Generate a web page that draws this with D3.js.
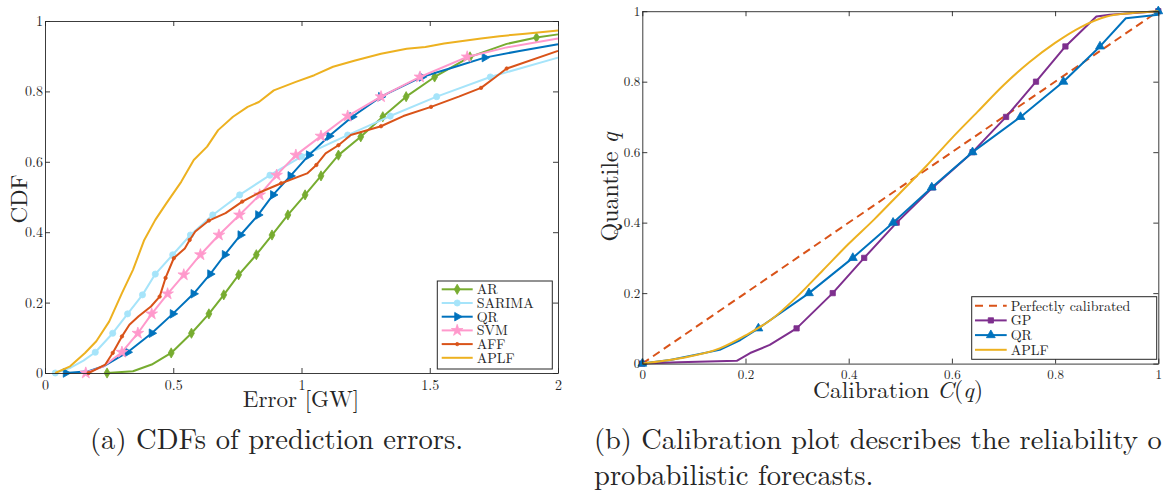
<!DOCTYPE html>
<html><head><meta charset="utf-8">
<script src="https://cdn.jsdelivr.net/npm/d3@7"></script>
<style>
body{margin:0;background:#fff}
svg{display:block}
svg text{font-family:"Latin Modern Roman","Liberation Serif",serif !important;fill:#262626}
</style>
</head><body><svg id="c" width="1163" height="494" font-family="Latin Modern Roman"></svg>
<script>
// ---------- Left panel: CDFs of prediction errors ----------
const cdfNames = ["AR","SARIMA","QR","SVM","AFF","APLF"];
const cdfColors = ["#77AC30","#A6E4FA","#0072BD","#FF99CC","#D95319","#EDB120"];
const arLine = [[0.242,0],[0.343,0.005],[0.416,0.024],[0.492,0.057],[0.571,0.113],[0.639,0.168],[0.697,0.222],[0.755,0.279],[0.824,0.336],[0.885,0.392],[0.947,0.449],[1.014,0.506],[1.076,0.56],[1.144,0.619],[1.231,0.671],[1.317,0.728],[1.408,0.785],[1.519,0.841],[1.657,0.898],[1.8,0.935],[1.916,0.953],[2.0,0.962]];
const arMarks = [[0.242,0],[0.492,0.057],[0.571,0.113],[0.639,0.168],[0.697,0.222],[0.755,0.279],[0.824,0.336],[0.885,0.392],[0.947,0.449],[1.014,0.506],[1.076,0.56],[1.144,0.619],[1.231,0.671],[1.317,0.728],[1.408,0.785],[1.519,0.841],[1.657,0.898],[1.916,0.953]];
const sarimaLine = [[0.04,0],[0.1,0.015],[0.15,0.035],[0.196,0.059],[0.264,0.113],[0.322,0.168],[0.38,0.222],[0.43,0.281],[0.498,0.336],[0.567,0.392],[0.654,0.449],[0.759,0.506],[0.877,0.562],[1.0,0.615],[1.18,0.676],[1.346,0.73],[1.527,0.785],[1.736,0.841],[2.0,0.896]];
const sarimaMarks = [[0.04,0],[0.196,0.059],[0.264,0.113],[0.322,0.168],[0.38,0.222],[0.43,0.281],[0.498,0.336],[0.567,0.392],[0.654,0.449],[0.759,0.506],[0.877,0.562],[1.0,0.615],[1.18,0.676],[1.346,0.73],[1.527,0.785],[1.736,0.841]];
const qrLine = [[0.081,0],[0.17,0.005],[0.228,0.019],[0.322,0.059],[0.416,0.113],[0.498,0.168],[0.579,0.225],[0.644,0.281],[0.701,0.336],[0.762,0.392],[0.831,0.449],[0.889,0.506],[0.957,0.56],[1.029,0.619],[1.108,0.673],[1.198,0.728],[1.31,0.785],[1.469,0.841],[1.6,0.87],[1.714,0.896],[1.85,0.915],[2.0,0.934]];
const qrMarks = [[0.081,0],[0.322,0.059],[0.416,0.113],[0.498,0.168],[0.579,0.225],[0.644,0.281],[0.701,0.336],[0.762,0.392],[0.831,0.449],[0.889,0.506],[0.957,0.56],[1.029,0.619],[1.108,0.673],[1.198,0.728],[1.31,0.785],[1.469,0.841],[1.714,0.896]];
const svmLine = [[0.159,0],[0.228,0.019],[0.3,0.059],[0.362,0.113],[0.416,0.168],[0.478,0.225],[0.541,0.279],[0.606,0.336],[0.678,0.392],[0.758,0.449],[0.837,0.506],[0.903,0.562],[0.978,0.619],[1.076,0.673],[1.18,0.73],[1.31,0.785],[1.462,0.841],[1.646,0.898],[1.8,0.925],[2.0,0.95]];
const svmMarks = [[0.159,0],[0.3,0.059],[0.362,0.113],[0.416,0.168],[0.478,0.225],[0.541,0.279],[0.606,0.336],[0.678,0.392],[0.758,0.449],[0.837,0.506],[0.903,0.562],[0.978,0.619],[1.076,0.673],[1.18,0.73],[1.31,0.785],[1.462,0.841],[1.646,0.898]];
const affLine = [[0.17,0],[0.235,0.024],[0.264,0.057],[0.3,0.104],[0.329,0.137],[0.365,0.161],[0.413,0.189],[0.447,0.217],[0.47,0.27],[0.502,0.326],[0.545,0.354],[0.564,0.378],[0.586,0.402],[0.639,0.433],[0.704,0.454],[0.769,0.487],[0.834,0.512],[0.921,0.539],[1.022,0.567],[1.058,0.591],[1.094,0.624],[1.144,0.647],[1.192,0.676],[1.31,0.701],[1.397,0.73],[1.505,0.756],[1.613,0.785],[1.7,0.81],[1.757,0.841],[1.8,0.865],[2.0,0.915]];
const affMarks = [[0.17,0],[0.264,0.057],[0.3,0.104],[0.447,0.217],[0.47,0.27],[0.502,0.326],[0.564,0.378],[0.639,0.433],[0.769,0.487],[0.921,0.539],[1.058,0.591],[1.144,0.647],[1.31,0.701],[1.505,0.756],[1.7,0.81],[1.8,0.865]];
const aplfLine = [[0.04,0],[0.098,0.019],[0.156,0.057],[0.2,0.09],[0.25,0.146],[0.3,0.227],[0.343,0.293],[0.387,0.378],[0.43,0.435],[0.473,0.482],[0.531,0.543],[0.58,0.605],[0.632,0.643],[0.675,0.69],[0.733,0.728],[0.79,0.756],[0.834,0.77],[0.892,0.803],[0.978,0.827],[1.05,0.846],[1.123,0.87],[1.209,0.888],[1.31,0.907],[1.41,0.921],[1.483,0.926],[1.556,0.936],[1.628,0.943],[1.7,0.95],[1.772,0.957],[1.873,0.964],[2.0,0.973]];
const errTicks = [0,0.5,1,1.5,2];
const errTickLabels = ["0","0.5","1","1.5","2"];
const cdfTicks = [0,0.2,0.4,0.6,0.8,1];
const cdfTickLabels = ["0","0.2","0.4","0.6","0.8","1"];

// ---------- Right panel: calibration plot ----------
const calNames = ["Perfectly calibrated","GP","QR","APLF"];
const calColors = ["#D95319","#7E2F8E","#0072BD","#EDB120"];
const perfectLine = [[0,0],[1,1]];
const gpLine = [[0,0],[0.07,0.004],[0.183,0.008],[0.209,0.03],[0.247,0.053],[0.299,0.1],[0.369,0.2],[0.43,0.3],[0.493,0.4],[0.563,0.5],[0.64,0.6],[0.705,0.7],[0.763,0.8],[0.82,0.9],[0.88,0.985],[0.906,0.99],[1.0,1.0]];
const gpMarks = [[0,0],[0.299,0.1],[0.369,0.2],[0.43,0.3],[0.493,0.4],[0.563,0.5],[0.64,0.6],[0.705,0.7],[0.763,0.8],[0.82,0.9],[1.0,1.0]];
const qrCalLine = [[0,0],[0.054,0.01],[0.15,0.039],[0.19,0.067],[0.225,0.1],[0.323,0.2],[0.408,0.3],[0.486,0.4],[0.561,0.5],[0.64,0.6],[0.733,0.7],[0.816,0.8],[0.887,0.9],[0.937,0.98],[1.0,0.99]];
const qrCalMarks = [[0,0],[0.225,0.1],[0.323,0.2],[0.408,0.3],[0.486,0.4],[0.561,0.5],[0.64,0.6],[0.733,0.7],[0.816,0.8],[0.887,0.9],[1.0,1.0]];
const aplfCalLine = [[0,0],[0.073,0.015],[0.15,0.043],[0.2,0.08],[0.25,0.125],[0.3,0.19],[0.35,0.265],[0.4,0.34],[0.45,0.41],[0.5,0.485],[0.55,0.56],[0.6,0.64],[0.65,0.715],[0.7,0.79],[0.75,0.855],[0.8,0.91],[0.85,0.955],[0.9,0.985],[0.95,0.995],[1.0,1.0]];
const calTicks = [0,0.2,0.4,0.6,0.8,1];
const calTickLabels = ["0","0.2","0.4","0.6","0.8","1"];

// ---------- drawing ----------
const FONT = "Latin Modern Roman";
const svg = d3.select("#c");
svg.append("rect").attr("width",1163).attr("height",494).attr("fill","#fff");

const AX = "#262626";
const xL = d3.scaleLinear().domain([0,2]).range([45,558]);
const yL = d3.scaleLinear().domain([0,1]).range([373,21]);
const xR = d3.scaleLinear().domain([0,1]).range([642.3,1158.3]);
const yR = d3.scaleLinear().domain([0,1]).range([363.6,11.2]);

function sym(type){
  if(type==="diamond") return {p:d3.symbol().type(d3.symbolDiamond).size(30)(), r:0};
  if(type==="circle") return {p:d3.symbol().type(d3.symbolCircle).size(30)(), r:0};
  if(type==="tri-right") return {p:d3.symbol().type(d3.symbolTriangle).size(32)(), r:90};
  if(type==="star") return {p:d3.symbol().type(d3.symbolStar).size(42)(), r:0};
  if(type==="dot") return {p:d3.symbol().type(d3.symbolCircle).size(9)(), r:0};
  if(type==="square") return {p:d3.symbol().type(d3.symbolSquare).size(28)(), r:0};
  if(type==="tri-up") return {p:d3.symbol().type(d3.symbolTriangle).size(34)(), r:0};
  return null;
}

function axes(x,y,xt,xtl,yt,ytl,padB,fs){
  const g = svg.append("g").style("color",AX);
  const fmt = (vals,labs)=> (d)=> labs[vals.indexOf(d)];
  const b = g.append("g").attr("transform",`translate(0,${y.range()[0]})`)
    .call(d3.axisBottom(x).tickValues(xt).tickFormat(fmt(xt,xtl)).tickSizeInner(-5).tickSizeOuter(0).tickPadding(padB));
  const t = g.append("g").attr("transform",`translate(0,${y.range()[1]})`)
    .call(d3.axisTop(x).tickValues(xt).tickFormat("").tickSizeInner(-5).tickSizeOuter(0));
  const l = g.append("g").attr("transform",`translate(${x.range()[0]},0)`)
    .call(d3.axisLeft(y).tickValues(yt).tickFormat(fmt(yt,ytl)).tickSizeInner(-5).tickSizeOuter(0).tickPadding(2));
  const r = g.append("g").attr("transform",`translate(${x.range()[1]},0)`)
    .call(d3.axisRight(y).tickValues(yt).tickFormat("").tickSizeInner(-5).tickSizeOuter(0));
  [b,t,l,r].forEach(a=>{ a.attr("font-size",fs).attr("font-family",FONT);
    a.selectAll("path,line").attr("stroke-width",0.9); });
}

function series(x,y,line,marks,color,marker,clipId,dash,curve){
  const g = svg.append("g").attr("clip-path",`url(#${clipId})`);
  const gen = d3.line().x(d=>x(d[0])).y(d=>y(d[1]));
  if(curve) gen.curve(curve);
  const p = g.append("path").datum(line).attr("d",gen).attr("fill","none")
    .attr("stroke",color).attr("stroke-width",2).attr("stroke-linejoin","round");
  if(dash) p.attr("stroke-dasharray",dash);
  const s = sym(marker);
  if(s && marks){
    svg.append("g").selectAll("path").data(marks).join("path")
      .attr("d",s.p).attr("transform",d=>`translate(${x(d[0])},${y(d[1])}) rotate(${s.r})`)
      .attr("fill",color).attr("stroke",color).attr("stroke-width",0.8);
  }
}

function clip(id,x,y){
  svg.append("clipPath").attr("id",id).append("rect")
    .attr("x",x.range()[0]-6).attr("y",y.range()[1]-6)
    .attr("width",x.range()[1]-x.range()[0]+12).attr("height",y.range()[0]-y.range()[1]+12);
}
clip("cl",xL,yL); clip("cr",xR,yR);

// left panel
const cdfLines = [arLine,sarimaLine,qrLine,svmLine,affLine,aplfLine];
const cdfMarks = [arMarks,sarimaMarks,qrMarks,svmMarks,affMarks,null];
const cdfMarkers = ["diamond","circle","tri-right","star","dot",null];
cdfLines.forEach((ln,i)=>series(xL,yL,ln,cdfMarks[i],cdfColors[i],cdfMarkers[i],"cl",null,null));
axes(xL,yL,errTicks,errTickLabels,cdfTicks,cdfTickLabels,7,14);

// right panel
series(xR,yR,perfectLine,null,calColors[0],null,"cr","8,5",null);
series(xR,yR,gpLine,gpMarks,calColors[1],"square","cr",null,null);
series(xR,yR,qrCalLine,qrCalMarks,calColors[2],"tri-up","cr",null,null);
series(xR,yR,aplfCalLine,null,calColors[3],null,"cr",null,d3.curveMonotoneX);
axes(xR,yR,calTicks,calTickLabels,calTicks,calTickLabels,6.5,13);

// legends
function legend(x0,y0,w,h,rowY,step,lx0,lx1,tx,names,colors,markers,dashes){
  svg.append("rect").attr("x",x0).attr("y",y0).attr("width",w).attr("height",h)
    .attr("fill","#fff").attr("stroke","#262626").attr("stroke-width",1);
  names.forEach((n,i)=>{
    const yy = rowY + i*step;
    const ln = svg.append("line").attr("x1",lx0).attr("x2",lx1).attr("y1",yy).attr("y2",yy)
      .attr("stroke",colors[i]).attr("stroke-width",2);
    if(dashes[i]) ln.attr("stroke-dasharray",dashes[i]);
    const s = sym(markers[i]);
    if(s) svg.append("path").attr("d",s.p).attr("transform",`translate(${(lx0+lx1)/2},${yy}) rotate(${s.r})`)
      .attr("fill",colors[i]).attr("stroke",colors[i]).attr("stroke-width",0.8);
    svg.append("text").attr("x",tx).attr("y",yy).attr("dy","0.35em").attr("font-size",14)
      .attr("font-family",FONT).text(n);
  });
}
legend(437.3,281,115,88,289.3,13.7,441.7,472.7,476.7,cdfNames,cdfColors,cdfMarkers,[null,null,null,null,null,null]);
legend(971.7,296.7,185,62.6,305.7,14.7,975,1006.7,1010.7,calNames,calColors,[null,"square","tri-up",null],["8,6",null,null,null]);

// axis titles
svg.append("text").attr("transform","translate(27,199) rotate(-90)").attr("text-anchor","middle")
  .attr("font-size",23).attr("font-family",FONT).text("CDF");
svg.append("text").attr("x",301).attr("y",407).attr("text-anchor","middle").attr("font-size",23)
  .attr("font-family",FONT).text("Error [GW]");
const qt = svg.append("text").attr("transform","translate(618,187) rotate(-90)").attr("text-anchor","middle")
  .attr("font-size",24).attr("font-family",FONT);
qt.append("tspan").text("Quantile ");
qt.append("tspan").attr("font-style","italic").text("q");
const ct = svg.append("text").attr("x",898).attr("y",398).attr("text-anchor","middle")
  .attr("font-size",23.5).attr("font-family",FONT);
ct.append("tspan").text("Calibration ");
ct.append("tspan").attr("font-style","italic").text("C");
ct.append("tspan").text("(");
ct.append("tspan").attr("font-style","italic").text("q");
ct.append("tspan").text(")");

// captions
svg.append("text").attr("x",90).attr("y",449).attr("font-size",28.6).attr("font-family",FONT)
  .text("(a) CDFs of prediction errors.");
svg.append("text").attr("x",594).attr("y",449).attr("font-size",28.4).attr("font-family",FONT)
  .text("(b) Calibration plot describes the reliability o");
svg.append("text").attr("x",594).attr("y",485).attr("font-size",28.6).attr("font-family",FONT)
  .text("probabilistic forecasts.");
</script></body></html>
